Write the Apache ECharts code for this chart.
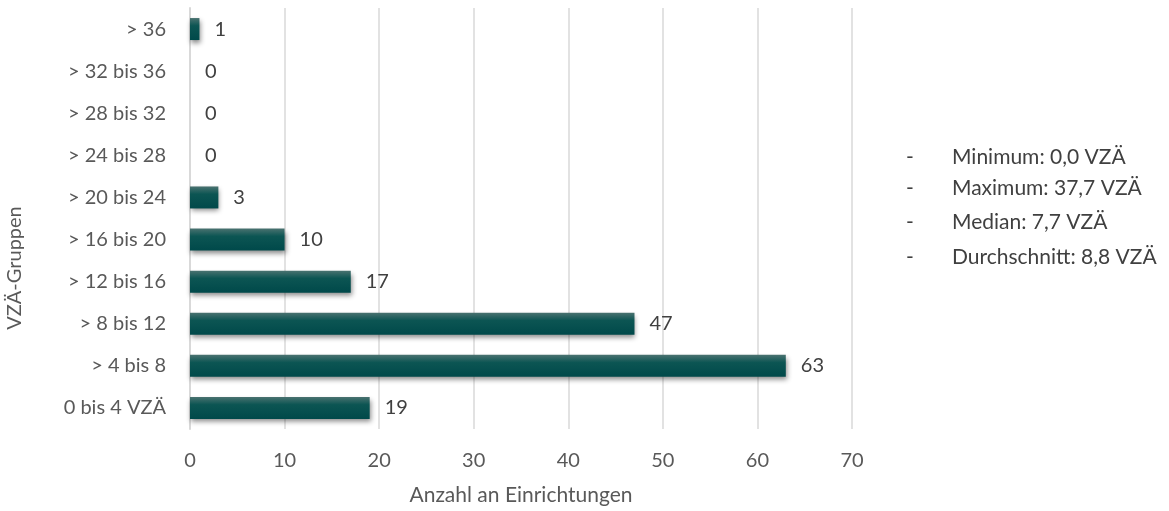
<!DOCTYPE html>
<html>
<head>
<meta charset="utf-8">
<script src="https://cdn.jsdelivr.net/npm/echarts@6/dist/echarts.min.js"></script>
<style>
html,body{margin:0;padding:0;background:#fff;}
#c{width:1169px;height:511px;}
</style>
</head>
<body>
<div id="c"></div>
<script>
const categories = ['0 bis 4 VZÄ', '> 4 bis 8', '> 8 bis 12', '> 12 bis 16', '> 16 bis 20', '> 20 bis 24', '> 24 bis 28', '> 28 bis 32', '> 32 bis 36', '> 36'];
const values = [19, 63, 47, 17, 10, 3, 0, 0, 0, 1];
const xTicks = [0, 10, 20, 30, 40, 50, 60, 70];
const statLines = ['Minimum: 0,0 VZÄ', 'Maximum: 37,7 VZÄ', 'Median: 7,7 VZÄ', 'Durchschnitt: 8,8 VZÄ'];

const FONT = 'Lato';
const TXT = '#595959';
const chart = echarts.init(document.getElementById('c'), null, {renderer: 'canvas'});

const graphics = [];
const statY = [157, 188, 222, 257];
statLines.forEach((s, i) => {
  graphics.push({type: 'text', x: 906, y: statY[i], style: {text: '-', font: '21px ' + FONT, fill: '#404040', verticalAlign: 'middle'}});
  graphics.push({type: 'text', x: 952, y: statY[i], style: {text: s, font: '21px ' + FONT, fill: '#404040', verticalAlign: 'middle'}});
});
graphics.push({type: 'text', x: 15, y: 268, rotation: Math.PI / 2, style: {text: 'VZÄ-Gruppen', font: '20px ' + FONT, fill: TXT, align: 'center', verticalAlign: 'middle'}});

chart.setOption({
  animation: false,
  grid: {left: 190, right: 317, top: 8, bottom: 68, containLabel: false},
  xAxis: {
    type: 'value', min: xTicks[0], max: xTicks[xTicks.length - 1], interval: 10,
    axisLine: {show: false}, axisTick: {show: false},
    splitLine: {lineStyle: {color: '#d9d9d9', width: 1.5}},
    axisLabel: {color: TXT, fontFamily: FONT, fontSize: 20, margin: 22},
    name: 'Anzahl an Einrichtungen', nameLocation: 'middle', nameGap: 56,
    nameTextStyle: {color: TXT, fontFamily: FONT, fontSize: 21}
  },
  yAxis: {
    type: 'category', data: categories,
    axisLine: {show: true, lineStyle: {color: '#d9d9d9', width: 2}},
    axisTick: {show: false},
    axisLabel: {color: TXT, fontFamily: FONT, fontSize: 20, margin: 24}
  },
  series: [{
    type: 'bar', data: values, barWidth: 22,
    itemStyle: {
      color: new echarts.graphic.LinearGradient(0, 0, 0, 1, [
        {offset: 0, color: '#4a7270'},
        {offset: 0.35, color: '#0c5553'},
        {offset: 1, color: '#00494a'}
      ]),
      shadowColor: 'rgba(0,0,0,0.45)', shadowBlur: 5, shadowOffsetX: 1, shadowOffsetY: 3
    },
    label: {show: true, position: 'right', distance: 15, color: '#404040', fontFamily: FONT, fontSize: 20}
  }],
  graphic: graphics
});
</script>
</body>
</html>
